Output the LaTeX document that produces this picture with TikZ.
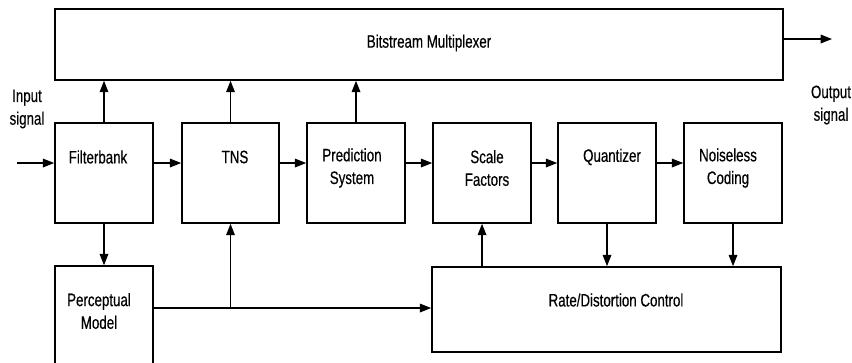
\documentclass[tikz,border=0pt]{standalone}
\usepackage{fontspec}
\setmainfont{Liberation Sans}[FakeStretch=0.74,FakeBold=0.4]
\usetikzlibrary{arrows.meta,fit}
\begin{document}
\begin{tikzpicture}[x=0.75pt,y=-0.75pt,
  box/.style={draw,line width=1.2pt,inner sep=0pt},
  lbl/.style={font=\fontsize{13.5}{17}\selectfont,align=center,inner sep=0pt},
  conn/.style={line width=0.9pt,-{Triangle[length=8.5pt,width=6.5pt]}}]
\useasboundingbox (0,0) rectangle (852,362);
\clip (0,0) rectangle (852,362);
% boxes
\node[box,fit={(55,9) (783,80)}] (mux) {};
\node[box,fit={(55,123) (153,223)}] (fb) {};
\node[box,fit={(182,123) (279,223)}] (tns) {};
\node[box,fit={(307,123) (405,223)}] (pred) {};
\node[box,fit={(433,123) (531,223)}] (sf) {};
\node[box,fit={(558,123) (656,223)}] (qz) {};
\node[box,fit={(684,123) (782,223)}] (nc) {};
\node[box,fit={(55,266) (153,375)}] (pm) {};
\node[box,fit={(432,267) (781,352)}] (rd) {};
% labels
\node[lbl] (tmux) at (429,43) {Bitstream Multiplexer};
\node[lbl] (tfb) at (98,157) {Filterbank};
\node[lbl] (ttns) at (235,157) {TNS};
\node[lbl] (tpred) at (352,168) {Prediction\\System};
\node[lbl] (tsf) at (487,168) {Scale\\Factors};
\node[lbl] (tqz) at (612,157) {Quantizer};
\node[lbl] (tnc) at (728,168) {Noiseless\\Coding};
\node[lbl] (tpm) at (99,311) {Perceptual\\Model};
\node[lbl] (trd) at (616,300) {Rate/Distortion Control};
\node[lbl] (tin) at (27,109) {Input\\signal};
\node[lbl] (tout) at (831,105) {Output\\signal};
% connector helpers
\coordinate (in) at (17,163);
\coordinate (out) at (832,39);
\coordinate (pmout) at (153,308);
% connectors
\draw[conn] (in) -- (in -| fb.west);
\draw[conn] (fb.east |- in) -- (tns.west |- in);
\draw[conn] (tns.east |- in) -- (pred.west |- in);
\draw[conn] (pred.east |- in) -- (sf.west |- in);
\draw[conn] (sf.east |- in) -- (qz.west |- in);
\draw[conn] (qz.east |- in) -- (nc.west |- in);
\draw[conn] (mux.east |- out) -- (out);
\draw[conn] (fb.north) -- (fb.north |- mux.south);
\draw[conn] (tns.north) -- (tns.north |- mux.south);
\draw[conn] (pred.north) -- (pred.north |- mux.south);
\draw[conn] (fb.south) -- (fb.south |- pm.north);
\draw[conn] (pm.east |- pmout) -- (rd.west |- pmout);
\draw[conn] (tns.south |- pmout) -- (tns.south);
\draw[conn] (sf.south |- rd.north) -- (sf.south);
\draw[conn] (qz.south) -- (qz.south |- rd.north);
\draw[conn] (nc.south) -- (nc.south |- rd.north);
\end{tikzpicture}
\end{document}
